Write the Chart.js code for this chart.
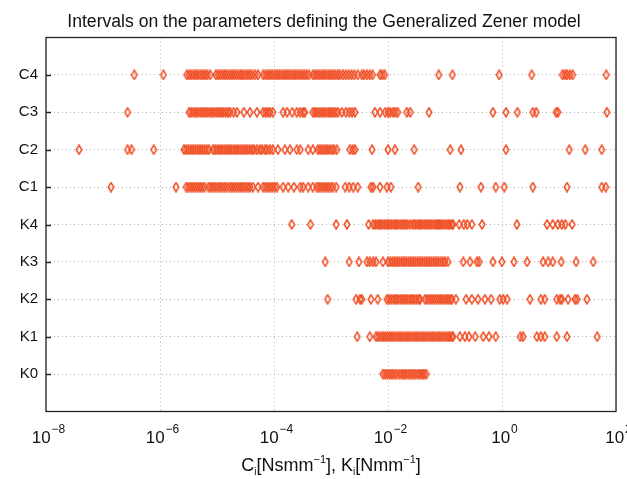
<!DOCTYPE html>
<html>
<head>
<meta charset="utf-8">
<script src="https://cdn.jsdelivr.net/npm/chart.js@4/dist/chart.umd.min.js"></script>
<style>
  html, body { margin: 0; padding: 0; background: #fff; }
  #wrap { width: 627px; height: 479px; }
</style>
</head>
<body>
<div id="wrap"><canvas id="zener"></canvas></div>
<script>
const chartTitle = "Intervals on the parameters defining the Generalized Zener model";

// parameter names, bottom to top
const rowLabels = ["K0", "K1", "K2", "K3", "K4", "C1", "C2", "C3", "C4"];

// x tick positions (log10) and their labels (base + exponent)
const xTickExps = [-8, -6, -4, -2, 0, 2];
const xTickSup = ["\u22128", "\u22126", "\u22124", "\u22122", "0", "2"];

// values, as log10 of the parameter
const logK0 = [-2.09, -2.05, -2.01, -1.97, -1.93, -1.89, -1.85, -1.80, -1.76, -1.72, -1.68, -1.64,
  -1.60, -1.56, -1.52, -1.48, -1.44, -1.40, -1.37, -1.33];

const logK1 = [-2.54, -2.32, -2.21, -2.17, -2.13, -2.09, -2.05, -2.01, -1.97, -1.93, -1.89, -1.85,
  -1.81, -1.77, -1.73, -1.69, -1.65, -1.61, -1.57, -1.53, -1.49, -1.45, -1.41, -1.37, -1.33,
  -1.29, -1.25, -1.21, -1.17, -1.13, -1.09, -1.05, -1.01, -0.97, -0.93, -0.89, -0.86,
  -0.74, -0.65, -0.58, -0.47, -0.33, -0.23, -0.11, 0.32, 0.37, 0.61, 0.68, 0.75, 0.96, 1.14, 1.67];

const logK2 = [-3.06, -2.56, -2.49, -2.46, -2.30, -2.18, -2.02, -1.98, -1.94, -1.90, -1.86, -1.82,
  -1.78, -1.74, -1.70, -1.66, -1.62, -1.58, -1.54, -1.50, -1.46, -1.44, -1.35, -1.31, -1.27,
  -1.23, -1.19, -1.15, -1.11, -1.07, -1.03, -0.99, -0.95, -0.91, -0.88, -0.81, -0.63, -0.53,
  -0.42, -0.30, -0.19, -0.04, 0.02, 0.09, 0.49, 0.68, 0.75, 0.96, 1.02, 1.05, 1.16, 1.28, 1.32, 1.49];

const logK3 = [-3.10, -2.68, -2.51, -2.37, -2.32, -2.26, -2.21, -2.09, -2.00, -1.96, -1.92, -1.88,
  -1.84, -1.80, -1.76, -1.72, -1.68, -1.64, -1.60, -1.56, -1.52, -1.48, -1.44, -1.40, -1.36,
  -1.32, -1.28, -1.24, -1.20, -1.16, -1.12, -1.08, -1.04, -1.00, -0.95, -0.68, -0.56, -0.44,
  -0.40, -0.16, 0.00, 0.21, 0.44, 0.72, 0.81, 0.89, 1.04, 1.30, 1.60];

const logK4 = [-3.69, -3.36, -2.91, -2.72, -2.34, -2.26, -2.22, -2.18, -2.14, -2.10, -2.06, -2.02,
  -1.98, -1.94, -1.90, -1.86, -1.82, -1.78, -1.74, -1.70, -1.66, -1.61, -1.56, -1.52, -1.48,
  -1.44, -1.40, -1.36, -1.32, -1.28, -1.24, -1.20, -1.16, -1.12, -1.09, -1.05, -1.01, -0.97,
  -0.93, -0.89, -0.86, -0.75, -0.67, -0.61, -0.53, -0.35, 0.26, 0.79, 0.89, 0.98, 1.05, 1.11, 1.23];

const logC1 = [-6.86, -5.72, -5.54, -5.50, -5.46, -5.42, -5.38, -5.34, -5.30, -5.26, -5.22, -5.15,
  -5.11, -5.07, -5.03, -4.99, -4.95, -4.91, -4.87, -4.83, -4.78, -4.74, -4.70, -4.66, -4.62,
  -4.58, -4.54, -4.50, -4.46, -4.42, -4.37, -4.28, -4.19, -4.15, -4.11, -4.07, -4.03, -3.99,
  -3.95, -3.84, -3.75, -3.65, -3.54, -3.49, -3.40, -3.32, -3.25, -3.21, -3.17, -3.13, -3.09,
  -3.05, -3.01, -2.97, -2.91, -2.75, -2.68, -2.61, -2.53, -2.30, -2.26, -2.14, -2.02, -1.95,
  -1.47, -0.74, -0.37, -0.11, 0.04, 0.54, 1.14, 1.75, 1.82];

const logC2 = [-7.42, -6.57, -6.50, -6.11, -5.58, -5.54, -5.50, -5.46, -5.42, -5.38, -5.34, -5.30,
  -5.26, -5.22, -5.18, -5.14, -5.07, -5.03, -4.99, -4.95, -4.91, -4.87, -4.83, -4.79, -4.75,
  -4.71, -4.67, -4.63, -4.59, -4.55, -4.51, -4.47, -4.43, -4.39, -4.35, -4.30, -4.25, -4.21,
  -4.16, -4.12, -4.07, -4.02, -3.93, -3.81, -3.72, -3.60, -3.54, -3.40, -3.32, -3.23, -3.19,
  -3.15, -3.11, -3.07, -3.03, -2.99, -2.95, -2.90, -2.67, -2.62, -2.58, -2.28, -2.00, -1.88,
  -1.54, -0.91, -0.72, 0.07, 1.18, 1.46, 1.75];

const logC3 = [-6.57, -5.49, -5.45, -5.41, -5.37, -5.33, -5.29, -5.25, -5.21, -5.17, -5.13, -5.09,
  -5.05, -5.01, -4.97, -4.93, -4.89, -4.85, -4.81, -4.77, -4.71, -4.65, -4.53, -4.42, -4.30,
  -4.19, -4.15, -4.11, -4.07, -4.02, -3.84, -3.77, -3.68, -3.60, -3.54, -3.49, -3.46, -3.32,
  -3.28, -3.24, -3.20, -3.16, -3.12, -3.08, -3.04, -3.00, -2.96, -2.92, -2.88, -2.81, -2.74,
  -2.68, -2.63, -2.58, -2.23, -2.14, -2.05, -2.00, -1.96, -1.91, -1.87, -1.83, -1.67, -1.61,
  -1.28, -0.16, 0.07, 0.27, 0.54, 0.60, 0.95, 0.98, 1.84];

const logC4 = [-6.45, -5.94, -5.53, -5.49, -5.45, -5.41, -5.37, -5.33, -5.29, -5.25, -5.21, -5.17,
  -5.12, -5.02, -4.98, -4.94, -4.90, -4.86, -4.82, -4.78, -4.74, -4.70, -4.66, -4.62, -4.58,
  -4.54, -4.50, -4.46, -4.42, -4.38, -4.33, -4.28, -4.19, -4.15, -4.11, -4.07, -4.03, -3.99,
  -3.95, -3.91, -3.87, -3.83, -3.79, -3.75, -3.71, -3.67, -3.63, -3.59, -3.55, -3.51, -3.47,
  -3.43, -3.39, -3.32, -3.28, -3.24, -3.20, -3.16, -3.12, -3.08, -3.04, -3.00, -2.96, -2.92,
  -2.88, -2.84, -2.79, -2.74, -2.69, -2.64, -2.59, -2.53, -2.46, -2.42, -2.37, -2.32, -2.27,
  -2.14, -2.10, -2.06, -1.11, -0.87, -0.05, 0.52, 1.06, 1.10, 1.14, 1.19, 1.24, 1.83];

const rows = [logK0, logK1, logK2, logK3, logK4, logC1, logC2, logC3, logC4];

const markerColor = "#f04f26";
const fontFamily = "'Liberation Sans', Arial, Helvetica, sans-serif";

// narrow hollow diamond marker, like the original plot
function makeDiamond() {
  const c = document.createElement("canvas");
  c.width = 8; c.height = 11;
  const g = c.getContext("2d");
  g.strokeStyle = markerColor;
  g.lineWidth = 1.5;
  g.beginPath();
  g.moveTo(4, 1); g.lineTo(6.8, 5.5); g.lineTo(4, 10); g.lineTo(1.2, 5.5);
  g.closePath();
  g.stroke();
  return c;
}
const diamond = makeDiamond();

const datasets = rows.map((vals, i) => ({
  label: rowLabels[i],
  data: vals.map(e => ({ x: Math.pow(10, e), y: i })),
  pointStyle: diamond,
  pointRadius: 4,
  showLine: false
}));

// title, frame, inward ticks, x tick labels with exponents, axis title
const decorPlugin = {
  id: "decor",
  afterDatasetsDraw(chart) {
    const { ctx, chartArea: a, scales } = chart;
    ctx.save();
    ctx.strokeStyle = "#222";
    ctx.lineWidth = 1.3;
    ctx.strokeRect(a.left, a.top, a.right - a.left, a.bottom - a.top);
    ctx.lineWidth = 1.5;
    rowLabels.forEach((_, i) => {
      const y = Math.round(scales.y.getPixelForValue(i)) + 0.5;
      ctx.beginPath();
      ctx.moveTo(a.left, y);
      ctx.lineTo(a.left + 5, y);
      ctx.stroke();
    });

    ctx.fillStyle = "#111";
    ctx.textBaseline = "alphabetic";
    ctx.textAlign = "center";
    ctx.font = "17.6px " + fontFamily;
    ctx.fillText(chartTitle, 324, 26.5);

    ctx.textAlign = "left";
    const big = "17px " + fontFamily, small = "12px " + fontFamily;
    xTickExps.forEach((e, i) => {
      const x = scales.x.getPixelForValue(Math.pow(10, e));
      ctx.font = big; const w1 = ctx.measureText("10").width;
      ctx.font = small; const w2 = ctx.measureText(xTickSup[i]).width;
      const x0 = x - (w1 + w2) / 2 + 2;
      ctx.font = big; ctx.fillText("10", x0, 443);
      ctx.font = small; ctx.fillText(xTickSup[i], x0 + w1 + 1, 433);
    });

    const parts = [
      { t: "C", f: "18px" }, { t: "i", f: "10px", dy: 4 }, { t: "[Nsmm", f: "18px" },
      { t: "\u22121", f: "11px", dy: -8 }, { t: "], K", f: "18px" }, { t: "i", f: "10px", dy: 4 },
      { t: "[Nmm", f: "18px" }, { t: "\u22121", f: "11px", dy: -8 }, { t: "]", f: "18px" }
    ];
    let total = 0;
    parts.forEach(p => { ctx.font = p.f + " " + fontFamily; p.w = ctx.measureText(p.t).width; total += p.w; });
    let xx = (a.left + a.right) / 2 - total / 2;
    parts.forEach(p => {
      ctx.font = p.f + " " + fontFamily;
      ctx.fillText(p.t, xx, 471 + (p.dy || 0));
      xx += p.w;
    });
    ctx.restore();
  }
};

new Chart(document.getElementById("zener"), {
  type: "scatter",
  data: { datasets },
  options: {
    responsive: true,
    maintainAspectRatio: false,
    animation: false,
    layout: { padding: { left: 0, right: 11, top: 37.5, bottom: 0 } },
    plugins: {
      legend: { display: false },
      tooltip: { enabled: false },
      title: { display: false }
    },
    scales: {
      x: {
        type: "logarithmic",
        min: 1e-8,
        max: 1e2,
        afterBuildTicks: (s) => { s.ticks = xTickExps.map(e => ({ value: Math.pow(10, e) })); },
        afterFit: (s) => { s.height = 67.5; s.paddingLeft = 0; s.paddingRight = 0; },
        grid: { color: "#b4b4b4", lineWidth: 1, drawTicks: false },
        border: { display: false, dash: [1, 3] },
        ticks: { display: false }
      },
      y: {
        type: "linear",
        min: -1,
        max: 9,
        afterBuildTicks: (s) => { s.ticks = rowLabels.map((_, i) => ({ value: i })); },
        afterFit: (s) => { s.width = 46; s.paddingTop = 0; s.paddingBottom = 0; },
        grid: { color: "#b4b4b4", lineWidth: 1, drawTicks: false },
        border: { display: false, dash: [1, 3] },
        ticks: {
          autoSkip: false,
          padding: 8,
          color: "#111",
          font: { family: fontFamily, size: 15 },
          callback: (v) => rowLabels[v]
        }
      }
    }
  },
  plugins: [decorPlugin]
});
</script>
</body>
</html>
